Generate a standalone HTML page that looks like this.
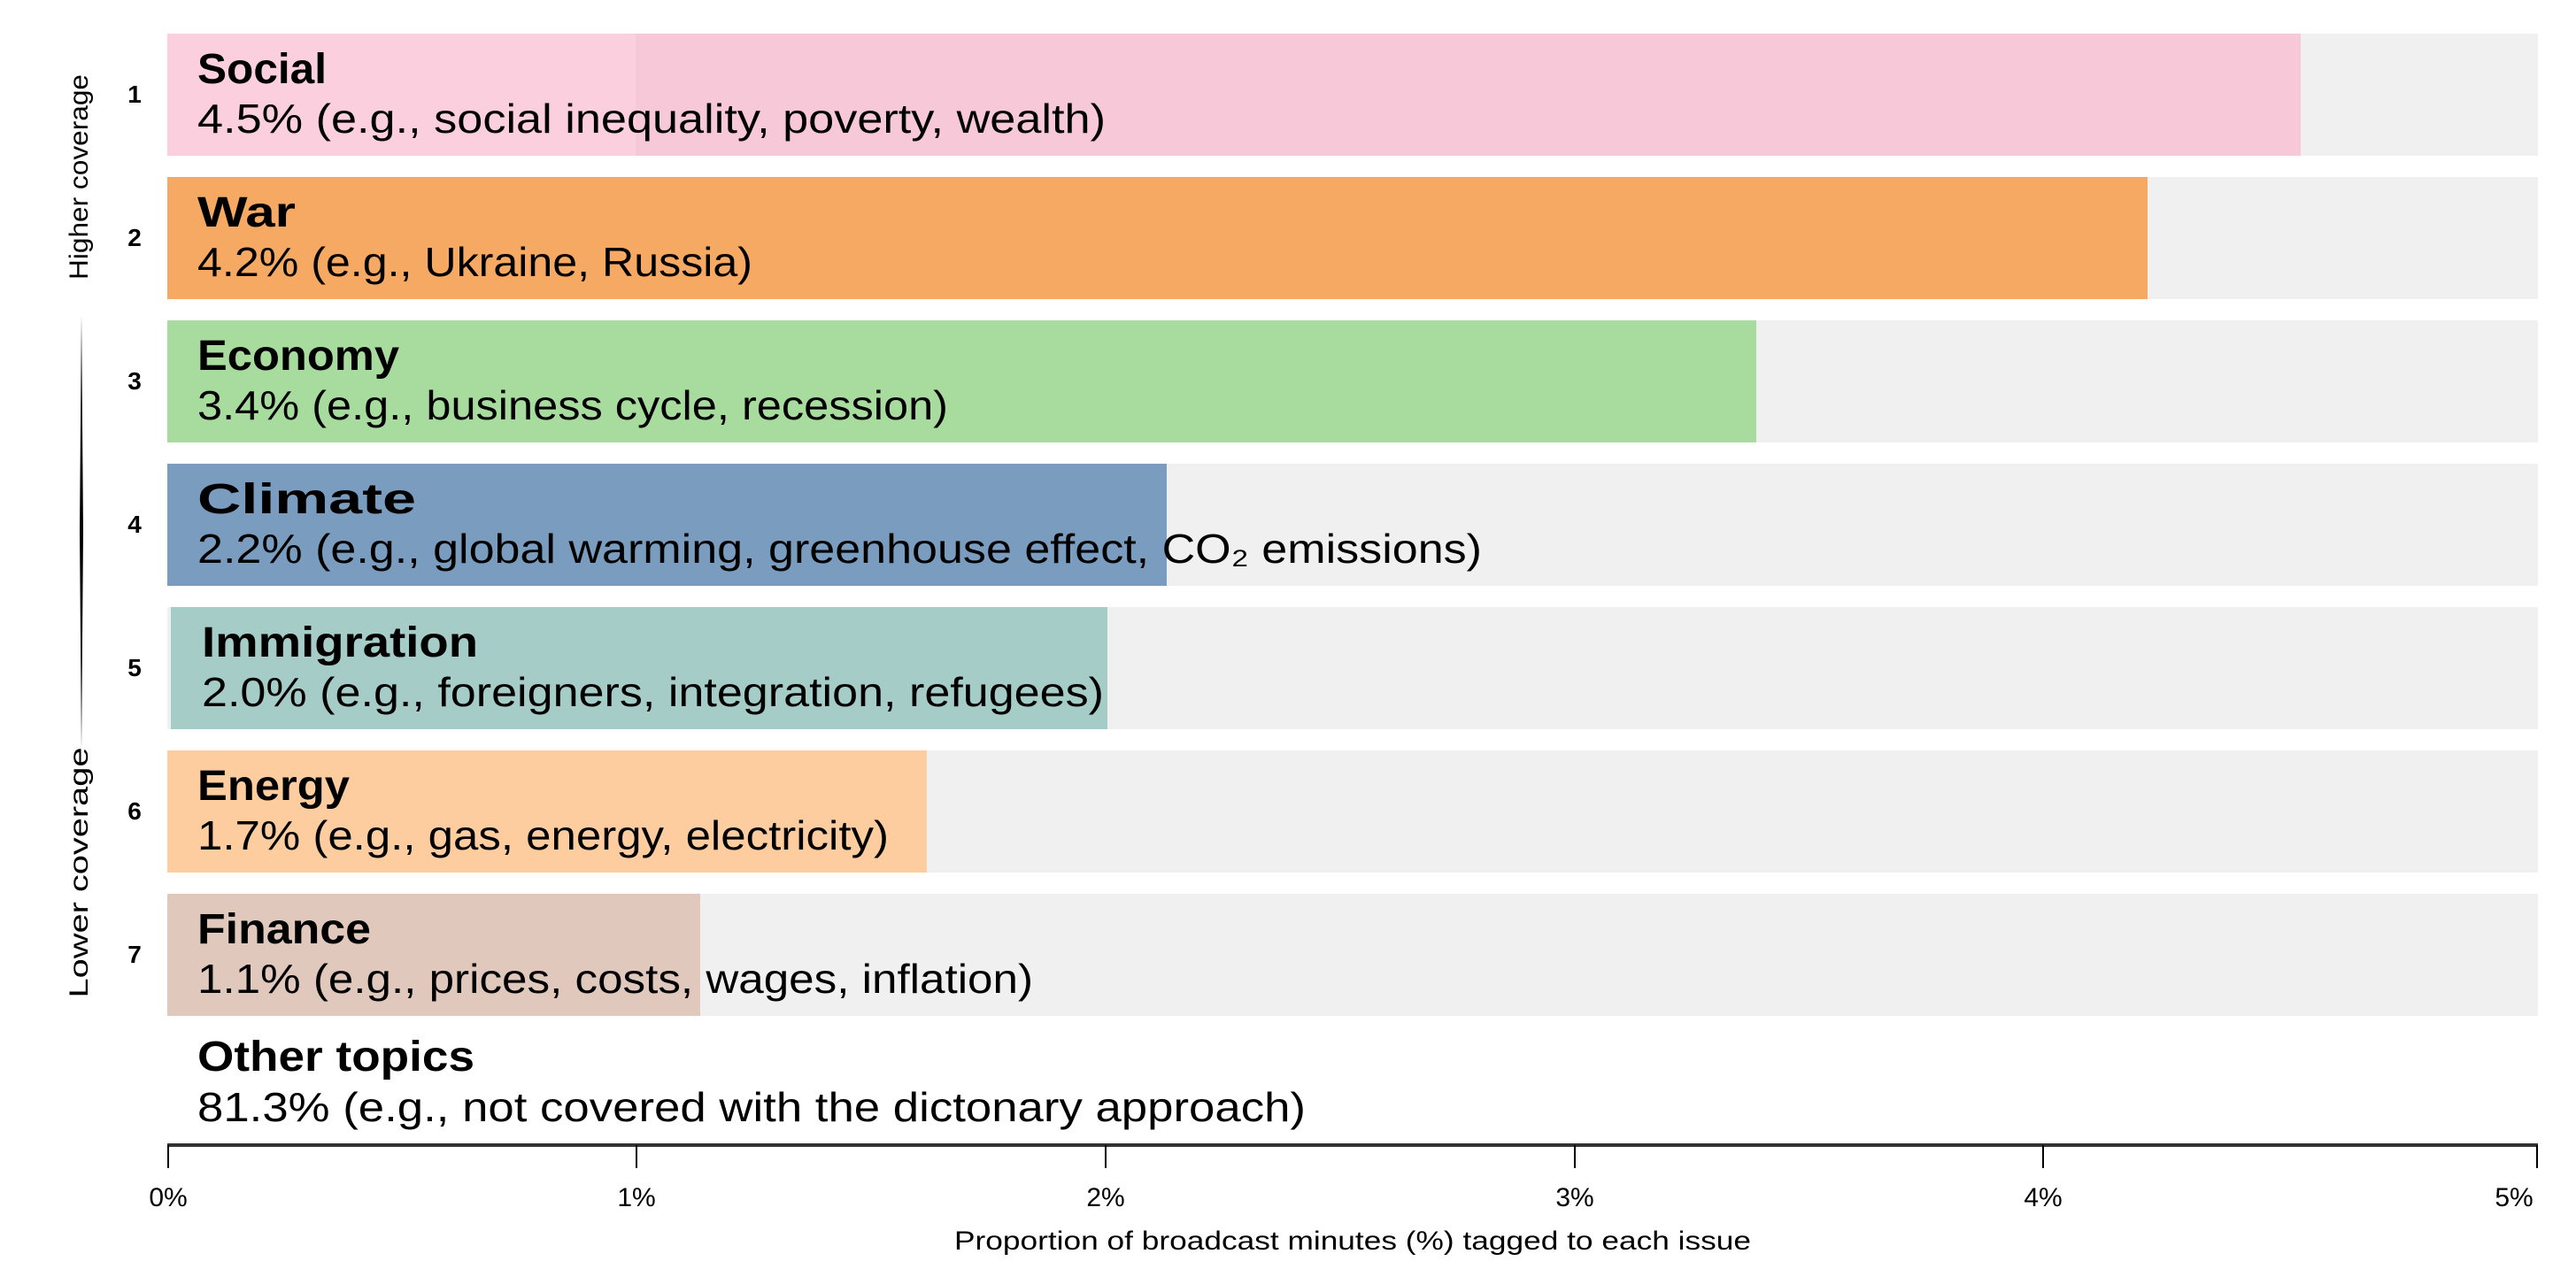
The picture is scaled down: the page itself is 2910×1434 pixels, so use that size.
<!DOCTYPE html>
<html><head><meta charset="utf-8"><style>
html,body{margin:0;padding:0;background:#fff;}
svg{display:block;}
text{font-family:"Liberation Sans",sans-serif;fill:#000;}
.t{font-weight:bold;font-size:48px;}
.s{font-size:46px;}
.n{font-weight:bold;font-size:28px;}
.k{font-size:30px;}
</style></head><body>
<svg width="2910" height="1434" viewBox="0 0 2910 1434" xmlns="http://www.w3.org/2000/svg">
<g fill="#f0f0f0">
<rect x="189" y="38" width="2678" height="138"/>
<rect x="189" y="200" width="2678" height="138"/>
<rect x="189" y="362" width="2678" height="138"/>
<rect x="189" y="524" width="2678" height="138"/>
<rect x="189" y="686" width="2678" height="138"/>
<rect x="189" y="848" width="2678" height="138"/>
<rect x="189" y="1010" width="2678" height="138"/>
</g>
<rect x="189" y="38" width="2410" height="138" fill="#f7c9d8"/>
<rect x="189" y="38" width="529" height="138" fill="#fbcfdd"/>
<rect x="189" y="200" width="2237" height="138" fill="#f5a962"/>
<rect x="189" y="362" width="1795" height="138" fill="#a8dc9e"/>
<rect x="189" y="524" width="1129" height="138" fill="#7a9cbf"/>
<rect x="193" y="686" width="1058" height="138" fill="#a5ccc7"/>
<rect x="189" y="848" width="858" height="138" fill="#fdcd9f"/>
<rect x="189" y="1010" width="602" height="138" fill="#e0c8bc"/>

<text class="t" x="223" y="94" textLength="146" lengthAdjust="spacingAndGlyphs">Social</text>
<text class="s" x="223" y="150" textLength="1026" lengthAdjust="spacingAndGlyphs">4.5% (e.g., social inequality, poverty, wealth)</text>
<text class="t" x="223" y="256" textLength="111" lengthAdjust="spacingAndGlyphs">War</text>
<text class="s" x="223" y="312" textLength="627" lengthAdjust="spacingAndGlyphs">4.2% (e.g., Ukraine, Russia)</text>
<text class="t" x="223" y="418" textLength="228" lengthAdjust="spacingAndGlyphs">Economy</text>
<text class="s" x="223" y="474" textLength="848" lengthAdjust="spacingAndGlyphs">3.4% (e.g., business cycle, recession)</text>
<text class="t" x="223" y="580" textLength="247" lengthAdjust="spacingAndGlyphs">Climate</text>
<text class="s" x="223" y="636" textLength="1451" lengthAdjust="spacingAndGlyphs">2.2% (e.g., global warming, greenhouse effect, CO₂ emissions)</text>
<text class="t" x="228" y="742" textLength="312" lengthAdjust="spacingAndGlyphs">Immigration</text>
<text class="s" x="228" y="798" textLength="1019" lengthAdjust="spacingAndGlyphs">2.0% (e.g., foreigners, integration, refugees)</text>
<text class="t" x="223" y="904" textLength="172" lengthAdjust="spacingAndGlyphs">Energy</text>
<text class="s" x="223" y="960" textLength="781" lengthAdjust="spacingAndGlyphs">1.7% (e.g., gas, energy, electricity)</text>
<text class="t" x="223" y="1066" textLength="196" lengthAdjust="spacingAndGlyphs">Finance</text>
<text class="s" x="223" y="1122" textLength="944" lengthAdjust="spacingAndGlyphs">1.1% (e.g., prices, costs, wages, inflation)</text>
<text class="t" x="223" y="1210" textLength="313" lengthAdjust="spacingAndGlyphs">Other topics</text>
<text class="s" x="223" y="1267" textLength="1252" lengthAdjust="spacingAndGlyphs">81.3% (e.g., not covered with the dictonary approach)</text>

<g text-anchor="middle">
<text class="n" x="152" y="116">1</text>
<text class="n" x="152" y="278">2</text>
<text class="n" x="152" y="440">3</text>
<text class="n" x="152" y="602">4</text>
<text class="n" x="152" y="764">5</text>
<text class="n" x="152" y="926">6</text>
<text class="n" x="152" y="1088">7</text>
<text class="k" transform="translate(99,200) rotate(-90)" textLength="232" lengthAdjust="spacingAndGlyphs">Higher coverage</text>
<text class="k" transform="translate(99,986) rotate(-90)" textLength="283" lengthAdjust="spacingAndGlyphs">Lower coverage</text>
</g>
<polygon points="92,356 94,600 92,848 90,600" fill="#000"/>

<rect x="189" y="1292" width="2678" height="4" fill="#333"/>
<g stroke="#000" stroke-width="2">
<line x1="190" y1="1294" x2="190" y2="1320"/>
<line x1="719" y1="1294" x2="719" y2="1320"/>
<line x1="1249" y1="1294" x2="1249" y2="1320"/>
<line x1="1779" y1="1294" x2="1779" y2="1320"/>
<line x1="2308" y1="1294" x2="2308" y2="1320"/>
<line x1="2866" y1="1294" x2="2866" y2="1320"/>
</g>
<g text-anchor="middle">
<text class="k" x="190" y="1363">0%</text>
<text class="k" x="719" y="1363">1%</text>
<text class="k" x="1249" y="1363">2%</text>
<text class="k" x="1779" y="1363">3%</text>
<text class="k" x="2308" y="1363">4%</text>
<text class="k" x="2840" y="1363">5%</text>
<text class="k" x="1528" y="1412" textLength="900" lengthAdjust="spacingAndGlyphs">Proportion of broadcast minutes (%) tagged to each issue</text>
</g>
</svg>
</body></html>
